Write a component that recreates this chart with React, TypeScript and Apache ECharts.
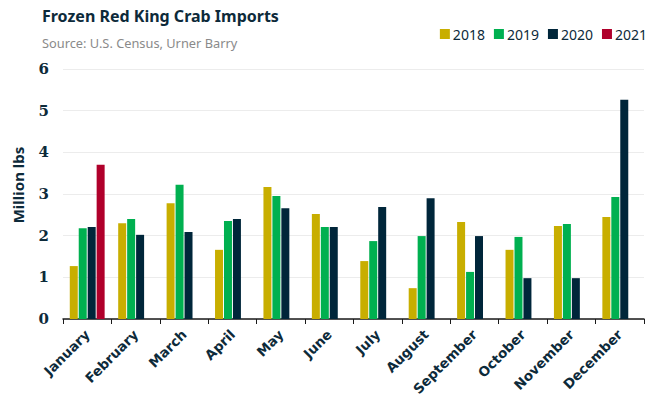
import React, { useEffect, useRef } from "react";
import * as echarts from "echarts";

const categories = ["January", "February", "March", "April", "May", "June", "July", "August", "September", "October", "November", "December"];
const s2018 = [1.27, 2.3, 2.78, 1.66, 3.17, 2.52, 1.39, 0.74, 2.33, 1.66, 2.23, 2.45];
const s2019 = [2.18, 2.4, 3.22, 2.35, 2.95, 2.21, 1.87, 1.99, 1.13, 1.97, 2.28, 2.93];
const s2020 = [2.21, 2.02, 2.09, 2.4, 2.66, 2.21, 2.69, 2.9, 1.99, 0.98, 0.98, 5.26];
const s2021 = [3.7, null, null, null, null, null, null, null, null, null, null, null];
const yTicks = [0, 1, 2, 3, 4, 5, 6];

const colors = ["#c8ae00", "#00b050", "#00263a", "#b0002b"];
const navy = "#0d2a3a";

export default function App() {
  const ref = useRef<HTMLDivElement>(null);
  useEffect(() => {
    const chart = echarts.init(ref.current!, null, { renderer: "svg" });
    const mk = (name: string, data: (number | null)[], i: number) => ({
      name,
      type: "bar",
      data,
      barCategoryGap: "28%",
      barGap: "12%",
      itemStyle: { color: colors[i] },
    });
    chart.setOption({
      animation: false,
      backgroundColor: "#ffffff",
      title: [
        {
          text: "Frozen Red King Crab Imports",
          left: 37,
          top: 3,
          textStyle: { fontFamily: "Noto Sans", fontWeight: "bold", fontSize: 16, color: navy },
        },
        {
          text: "Source: U.S. Census, Urner Barry",
          left: 37,
          top: 31,
          textStyle: { fontFamily: "Noto Sans", fontWeight: "normal", fontSize: 12.8, color: "#8a8a8a" },
        },
      ],
      legend: {
        right: 6,
        top: 22,
        itemWidth: 10,
        itemHeight: 10,
        itemGap: 9,
        icon: "rect",
        textStyle: { fontFamily: "Noto Sans", fontSize: 14, color: navy, padding: [0, 0, 0, -2] },
        data: ["2018", "2019", "2020", "2021"],
      },
      graphic: [
        {
          type: "text",
          x: 18,
          y: 185,
          rotation: Math.PI / 2,
          style: {
            text: "Million lbs",
            fontFamily: "Noto Sans",
            fontWeight: "bold",
            fontSize: 15,
            fill: navy,
            textAlign: "center",
            textVerticalAlign: "middle",
          },
        },
      ],
      grid: { left: 63, right: 14, top: 69, bottom: 89 },
      xAxis: {
        type: "category",
        data: categories,
        axisLine: { lineStyle: { color: "#1a1a1a", width: 1.5 } },
        axisTick: { show: true, length: 5, lineStyle: { color: "#1a1a1a" } },
        axisLabel: {
          rotate: 45,
          interval: 0,
          margin: 13,
          fontFamily: "DejaVu Sans",
          fontWeight: "bold",
          fontSize: 13.5,
          color: navy,
        },
      },
      yAxis: {
        type: "value",
        min: yTicks[0],
        max: yTicks[yTicks.length - 1],
        interval: 1,
        axisLine: { show: false },
        axisTick: { show: false },
        splitLine: { lineStyle: { color: "#ececec" } },
        axisLabel: {
          margin: 14,
          fontFamily: "DejaVu Serif",
          fontWeight: "bold",
          fontSize: 15,
          color: navy,
        },
      },
      series: [mk("2018", s2018, 0), mk("2019", s2019, 1), mk("2020", s2020, 2), mk("2021", s2021, 3)],
    });
    return () => chart.dispose();
  }, []);
  return <div ref={ref} style={{ position: "fixed", left: 0, top: 0, width: 658, height: 408 }} />;
}
